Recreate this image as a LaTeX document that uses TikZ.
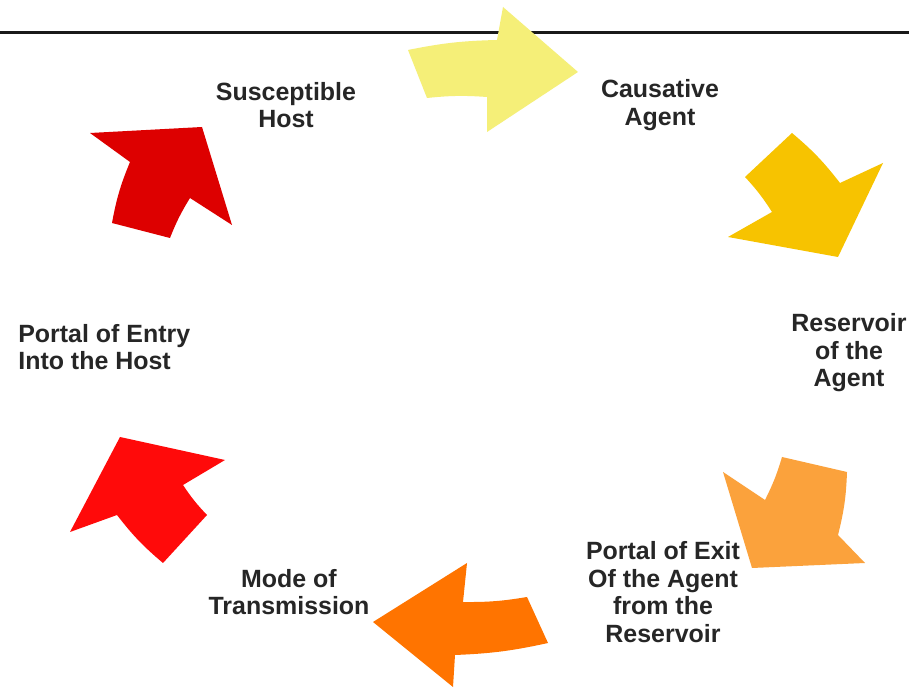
\documentclass[tikz,border=0pt]{standalone}
\usepackage{fontspec}
\setmainfont{Liberation Sans}
\begin{document}
\begin{tikzpicture}[x=0.02cm, y=-0.02cm,
  lbl/.style={font=\bfseries\fontsize{14.2pt}{15.6pt}\selectfont, align=center, inner sep=0pt, text=black!85},
  lblleft/.style={lbl, align=left},
  blockarrow/.style={draw=none}
]
% page frame
\useasboundingbox (0,0) rectangle (909,688);
\fill[white] (0,0) rectangle (909,688);

% header rule
\coordinate (ruleL) at (0,33);
\coordinate (ruleR) at (909,33);
\draw[line width=1.7pt, black!90] (ruleL) -- (ruleR);

% curved block arrows, clockwise around the cycle
\definecolor{cyc1}{RGB}{245,239,120}
\definecolor{cyc2}{RGB}{247,195,0}
\definecolor{cyc3}{RGB}{251,162,60}
\definecolor{cyc4}{RGB}{255,116,0}
\definecolor{cyc5}{RGB}{255,10,10}
\definecolor{cyc6}{RGB}{221,0,0}

\fill[blockarrow, cyc1] (408,50) to[bend left=5] (497,40) -- (503,7) -- (578,72)
  -- (487,132) -- (487,97) to[bend right=5] (427,98) -- cycle;
\fill[blockarrow, cyc2] (792,133) to[bend left=6] (840,183) -- (883,163) -- (838,257)
  -- (728,237) -- (772,212) to[bend right=5] (745,177) -- cycle;
\fill[blockarrow, cyc3] (847,472) to[bend left=6] (838,535) -- (865,563) -- (752,568)
  -- (723,472) -- (765,500) to[bend right=5] (782,457) -- cycle;
\fill[blockarrow, cyc4] (548,643) to[bend left=5] (455,655) -- (453,687) -- (373,622)
  -- (467,563) -- (463,602) to[bend right=5] (527,597) -- cycle;
\fill[blockarrow, cyc5] (163,563) to[bend left=6] (117,515) -- (70,532) -- (120,437)
  -- (225,460) -- (183,485) to[bend right=5] (207,515) -- cycle;
\fill[blockarrow, cyc6] (112,223) to[bend left=6] (130,162) -- (90,133) -- (202,127)
  -- (232,225) -- (190,198) to[bend right=5] (170,238) -- cycle;

% stage labels
\node[lbl] (host) at (286,105) {Susceptible\\Host};
\node[lbl] (agent) at (660,105) {Causative\\Agent};
\node[lbl] (reservoir) at (849,353) {Reservoir\\of the\\Agent};
\node[lblleft, anchor=west] (entry) at (18,347) {Portal of Entry\\Into the Host};
\node[lbl] (exit) at (663,592) {Portal of Exit\\Of the Agent\\from the\\Reservoir};
\node[lbl] (mode) at (289,592) {Mode of\\Transmission};
\end{tikzpicture}
\end{document}
